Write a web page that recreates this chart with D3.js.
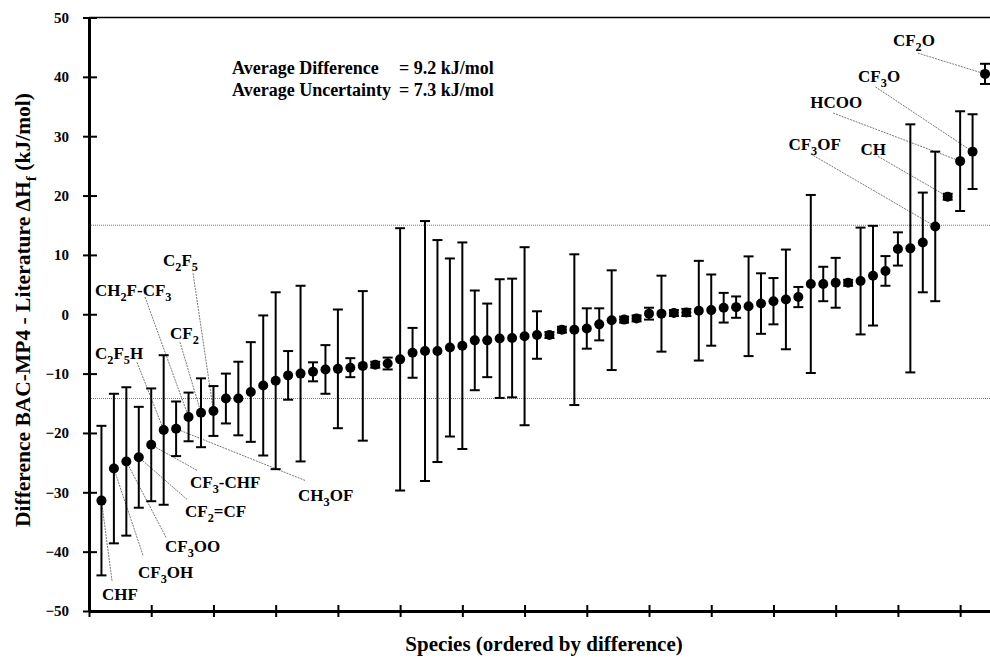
<!DOCTYPE html>
<html>
<head>
<meta charset="utf-8">
<script src="https://cdn.jsdelivr.net/npm/d3@7"></script>
<style>
body { margin: 0; background: #fff; }
text { font-family: "Liberation Serif", "Times New Roman", serif; font-weight: bold; fill: #000; }
</style>
</head>
<body>
<svg id="chart" width="990" height="658"></svg>
<script>
// difference BAC-MP4 - literature (kJ/mol), species sorted by difference
var diffs = [-31.4, -26.0, -24.8, -24.1, -22.0, -19.5, -19.3, -17.3, -16.6, -16.3,
	-14.2, -14.2, -13.1, -12.0, -11.2, -10.3, -10.0, -9.7, -9.3, -9.2,
	-9.0, -8.7, -8.5, -8.3, -7.6, -6.5, -6.2, -6.2, -5.6, -5.3,
	-4.4, -4.4, -4.1, -4.0, -3.7, -3.5, -3.5, -2.6, -2.6, -2.4,
	-1.7, -1.0, -0.9, -0.7, 0.1, 0.1, 0.2, 0.3, 0.6, 0.7,
	1.1, 1.2, 1.35, 1.8, 2.2, 2.5, 2.9, 5.1, 5.1, 5.3,
	5.3, 5.6, 6.5, 7.3, 11.0, 11.1, 12.1, 14.8, 19.8, 25.8,
	27.4, 40.5];
var uncert = [12.6, 12.6, 12.5, 8.5, 9.5, 12.6, 4.6, 4.1, 5.8, 4.2,
	4.2, 6.2, 8.4, 11.8, 14.9, 4.1, 14.8, 1.6, 4.1, 10.0,
	1.6, 12.6, 0.5, 1.0, 22.1, 4.2, 21.9, 18.7, 15.0, 17.4,
	8.4, 6.2, 10.0, 10.0, 15.0, 4.0, 0.5, 0.5, 12.7, 3.4,
	2.7, 8.4, 0.5, 0.5, 1.0, 6.4, 0.5, 0.6, 8.4, 6.0,
	2.5, 1.8, 8.4, 5.1, 3.9, 8.4, 1.7, 15.0, 2.9, 4.2,
	0.5, 9.0, 8.4, 2.5, 2.8, 20.9, 8.4, 12.6, 0.5, 8.4,
	6.3, 1.7];
var species = d3.range(1, diffs.length + 1);

var yTicks = d3.range(-50, 51, 10);
var xTicks = d3.range(0, 71, 5);
var bandLines = [15.0, -14.2];

// labelled species: name, species #, text pos, leader start (data units)
var labelNames = ["CHF", "CF_3OH", "CF_3OO", "CF_2=CF", "CF_3-CHF", "CH_3OF",
	"C_2F_5H", "CH_2F-CF_3", "CF_2", "C_2F_5",
	"CF_2O", "CF_3O", "HCOO", "CF_3OF", "CH"];
var labelSpecies = [1, 2, 3, 4, 5, 7, 6, 8, 9, 10, 72, 71, 70, 68, 69];
var labelTextX = [1.05, 3.94, 6.11, 7.72, 8.12, 16.8, 0.48, 0.48, 6.51, 5.95, 64.6, 61.8, 57.96, 56.2, 62.0];
var labelTextY = [-48.1, -44.4, -40.1, -34.2, -29.3, -31.5, -7.6, 3.0, -4.2, 8.1, 45.2, 39.1, 34.7, 27.7, 26.8];
var leadX = [1.85, 4.34, 6.19, 7.88, 8.68, 17.36, 3.86, 4.5, 7.31, 8.36, 66.6, 63.2, 59.8, 58.0, 63.4];
var leadY = [-44.9, -40.6, -37.6, -31.2, -26.3, -28.0, -8.1, 2.9, -4.7, 6.9, 44.0, 38.3, 33.9, 27.0, 26.6];

var svg = d3.select("#chart");
var x = d3.scaleLinear().domain([0, 72.4]).range([89, 990]);
var y = d3.scaleLinear().domain([-50, 50]).range([611, 17.5]);

// writes "CF_3OH" style names with subscripts
function richText(sel, str, size) {
	var parts = str.split(/_(\d|f)/);
	var shift = 0;
	parts.forEach(function(p, i) {
		if (p === "") return;
		var sub = i % 2 === 1;
		var dy = sub ? size * 0.28 : -shift;
		sel.append("tspan").attr("dy", dy).attr("font-size", sub ? size * 0.72 : size).text(p);
		shift = sub ? size * 0.28 : 0;
	});
}

// reference band
svg.append("g").selectAll("line").data(bandLines).enter().append("line")
	.attr("x1", x(0)).attr("x2", 990)
	.attr("y1", function(d) { return y(d); }).attr("y2", function(d) { return y(d); })
	.attr("stroke", "#777").attr("stroke-width", 1).attr("stroke-dasharray", "1,1");

// top frame
svg.append("line").attr("x1", x(0)).attr("x2", 990).attr("y1", y(50)).attr("y2", y(50))
	.attr("stroke", "#000").attr("stroke-width", 1.5);

// axes
var yAxis = svg.append("g").attr("transform", "translate(" + x(0) + ",0)")
	.call(d3.axisLeft(y).tickValues(yTicks).tickSize(6).tickSizeOuter(0).tickPadding(14));
yAxis.select(".domain").attr("stroke-width", 3);
yAxis.selectAll(".tick line").attr("x1", 8).attr("stroke-width", 2);
yAxis.selectAll(".tick text").attr("font-size", 15).attr("font-family", "Liberation Serif").attr("font-weight", "bold");

var xAxis = svg.append("g").attr("transform", "translate(0," + y(-50) + ")")
	.call(d3.axisBottom(x).tickValues(xTicks).tickFormat("").tickSize(6).tickSizeOuter(0));
xAxis.select(".domain").attr("stroke-width", 3);
xAxis.selectAll(".tick line").attr("y1", -6).attr("stroke-width", 2);

// leader lines
svg.append("g").selectAll("line").data(labelNames).enter().append("line")
	.attr("x1", function(d, i) { return x(leadX[i]); })
	.attr("y1", function(d, i) { return y(leadY[i]); })
	.attr("x2", function(d, i) { return x(labelSpecies[i]); })
	.attr("y2", function(d, i) { return y(diffs[labelSpecies[i] - 1]); })
	.attr("stroke", "#555").attr("stroke-width", 0.8).attr("stroke-dasharray", "2,1");

// error bars
var bars = svg.append("g").selectAll("g").data(species).enter().append("g");
bars.append("line")
	.attr("x1", function(d) { return x(d); }).attr("x2", function(d) { return x(d); })
	.attr("y1", function(d, i) { return y(diffs[i] + uncert[i]); })
	.attr("y2", function(d, i) { return y(diffs[i] - uncert[i]); })
	.attr("stroke", "#000").attr("stroke-width", 2);
[1, -1].forEach(function(s) {
	bars.append("line")
		.attr("x1", function(d) { return x(d) - 5; }).attr("x2", function(d) { return x(d) + 5; })
		.attr("y1", function(d, i) { return y(diffs[i] + s * uncert[i]); })
		.attr("y2", function(d, i) { return y(diffs[i] + s * uncert[i]); })
		.attr("stroke", "#000").attr("stroke-width", 2);
});
bars.append("circle")
	.attr("cx", function(d) { return x(d); })
	.attr("cy", function(d, i) { return y(diffs[i]); })
	.attr("r", 5).attr("fill", "#000");

// species labels
labelNames.forEach(function(name, i) {
	var t = svg.append("text").attr("x", x(labelTextX[i])).attr("y", y(labelTextY[i]));
	richText(t, name, 17);
});

// summary text
svg.append("text").attr("x", 232).attr("y", 74).attr("font-size", 18).text("Average Difference");
svg.append("text").attr("x", 399).attr("y", 74).attr("font-size", 18).text("= 9.2 kJ/mol");
svg.append("text").attr("x", 232).attr("y", 96).attr("font-size", 18).text("Average Uncertainty");
svg.append("text").attr("x", 399).attr("y", 96).attr("font-size", 18).text("= 7.3 kJ/mol");

// axis titles
svg.append("text").attr("x", 544).attr("y", 651).attr("text-anchor", "middle")
	.attr("font-size", 21).text("Species (ordered by difference)");
var yl = svg.append("text").attr("transform", "translate(30,310) rotate(-90)")
	.attr("text-anchor", "middle");
richText(yl, "Difference BAC-MP4 - Literature ΔH_f (kJ/mol)", 21.5);
</script>
</body>
</html>
